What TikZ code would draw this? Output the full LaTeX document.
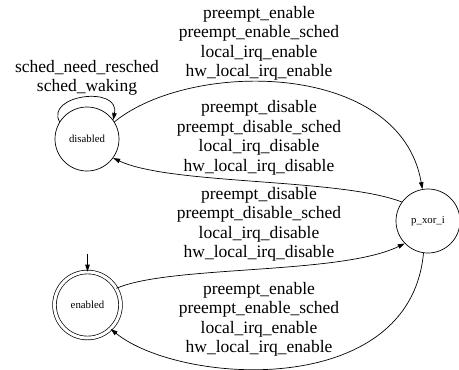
\documentclass[tikz,border=0pt]{standalone}
\usepackage{fontspec}
\setmainfont{Liberation Serif}
\usetikzlibrary{arrows.meta}
\begin{document}
\begin{tikzpicture}[x=1pt,y=-1pt,>={Triangle[length=7pt,width=4.5pt]},
  state/.style={draw,circle,line width=0.7pt,inner sep=0pt,font=\fontsize{10.8}{12}\selectfont},
  trans/.style={->,line width=0.7pt},
  lbl/.style={align=center,inner sep=0pt,font=\fontsize{17.5}{19.5}\selectfont}]
\useasboundingbox (0,0) rectangle (459,370);
% States
\node[state,minimum size=64pt] (disabled) at (87,139) {disabled};
\node[state,minimum size=66pt,double,double distance=3pt] (enabled) at (87.5,305) {enabled};
\node[state,minimum size=64pt] (pxori) at (428,221) {p\_xor\_i};
% Initial arrow
\coordinate (init) at (87.5,254);
\draw[trans] (init) -- (enabled.north);

% Self loop on disabled
\draw[trans] (disabled.148) .. controls (45,95) and (120,85) .. (disabled.36);
\node[lbl] (lbl_loop) at (87,78) {sched\_need\_resched\\sched\_waking};

% disabled -> p_xor_i
\draw[trans] (disabled.32) .. controls (190,60) and (400,60) .. (pxori.100);
\node[lbl] (lbl_en_top) at (259,43.5) {preempt\_enable\\preempt\_enable\_sched\\local\_irq\_enable\\hw\_local\_irq\_enable};
% p_xor_i -> disabled
\draw[trans] (pxori.144) .. controls (340,178) and (170,185) .. (disabled.-36);
\node[lbl] (lbl_dis_top) at (259,138) {preempt\_disable\\preempt\_disable\_sched\\local\_irq\_disable\\hw\_local\_irq\_disable};
% enabled -> p_xor_i
\draw[trans] (enabled.30) .. controls (170,265) and (340,275) .. (pxori.224);
\node[lbl] (lbl_dis_bot) at (259,224.5) {preempt\_disable\\preempt\_disable\_sched\\local\_irq\_disable\\hw\_local\_irq\_disable};
% p_xor_i -> enabled
\draw[trans] (pxori.262) .. controls (410,400) and (180,385) .. (enabled.-46);
\node[lbl] (lbl_en_bot) at (259,319.5) {preempt\_enable\\preempt\_enable\_sched\\local\_irq\_enable\\hw\_local\_irq\_enable};
\end{tikzpicture}
\end{document}
